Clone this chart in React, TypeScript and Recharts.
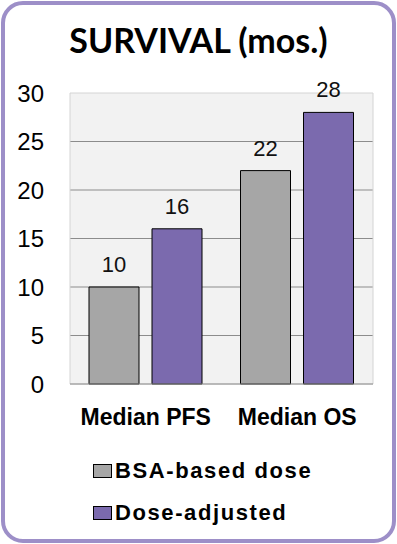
import {
  BarChart,
  Bar,
  XAxis,
  YAxis,
  CartesianGrid,
  LabelList,
  Legend,
  ReferenceArea,
} from "recharts";

const categories = ["Median PFS", "Median OS"];
const bsaBased = [10, 22];
const doseAdjusted = [16, 28];
const yTicks = [0, 5, 10, 15, 20, 25, 30];
const seriesNames = ["BSA-based dose", "Dose-adjusted"];

const GRAY = "#a6a6a6";
const PURPLE = "#7b6aae";
const BORDER = "#9d8fc8";

const data = categories.map((name, i) => ({
  name,
  bsa: bsaBased[i],
  adjusted: doseAdjusted[i],
}));

function LegendBox() {
  const colors = [GRAY, PURPLE];
  return (
    <div style={{ position: "relative", width: 397, height: 90 }}>
      {seriesNames.map((label, i) => (
        <div
          key={label}
          style={{
            position: "absolute",
            left: 93,
            top: 27 + i * 42,
            display: "flex",
            alignItems: "center",
            height: 20,
          }}
        >
          <div
            style={{
              width: 19,
              height: 14,
              background: colors[i],
              border: "1px solid #000",
              boxSizing: "border-box",
              marginRight: 3,
            }}
          />
          <span
            style={{
              fontFamily: "'Liberation Sans', Arial, sans-serif",
              fontWeight: 700,
              fontSize: 22,
              letterSpacing: 1.6,
              color: "#000",
              lineHeight: "20px",
            }}
          >
            {label}
          </span>
        </div>
      ))}
    </div>
  );
}

export default function App() {
  return (
    <div
      style={{
        position: "absolute",
        left: 0,
        top: 0,
        width: 397,
        height: 544,
        background: "#fff",
      }}
    >
      <div
        style={{
          position: "absolute",
          left: 1,
          top: 1,
          width: 395,
          height: 542,
          boxSizing: "border-box",
          border: `4px solid ${BORDER}`,
          borderRadius: 22,
        }}
      />
      <div
        style={{
          position: "absolute",
          left: 0,
          top: 18,
          width: 397,
          textAlign: "center",
          fontFamily: "Lato, 'Open Sans', sans-serif",
          fontWeight: 700,
          fontSize: 34,
          lineHeight: "44px",
          color: "#000",
        }}
      >
        SURVIVAL (mos.)
      </div>
      <div style={{ position: "absolute", left: 0, top: 0 }}>
        <BarChart
          width={397}
          height={544}
          data={data}
          margin={{ top: 93, right: 24, bottom: 20, left: 0 }}
          barSize={50}
          barGap={13}
        >
          <CartesianGrid
            vertical={false}
            horizontalValues={[5, 10, 15, 20, 25]}
            stroke="#8c8c8c"
            fill="#f2f2f2"
          />
          <ReferenceArea y1={0} y2={30} fill="none" stroke="#d4d4d4" />
          <XAxis
            dataKey="name"
            height={50}
            tickLine={false}
            tickSize={0}
            tickMargin={25}
            axisLine={{ stroke: "#8c8c8c" }}
            tick={{
              fontFamily: "'Liberation Sans', Arial, sans-serif",
              fontWeight: 700,
              fontSize: 23,
              fill: "#000",
            }}
          />
          <YAxis
            width={70}
            domain={[0, 30]}
            ticks={yTicks}
            axisLine={false}
            tickLine={false}
            tickSize={0}
            tickMargin={26}
            tick={{
              fontFamily: "'Liberation Sans', Arial, sans-serif",
              fontSize: 24,
              fill: "#000",
            }}
          />
          <Legend
            verticalAlign="bottom"
            content={<LegendBox />}
            wrapperStyle={{ left: 0, width: 397, height: 90 }}
          />
          <Bar
            dataKey="bsa"
            name={seriesNames[0]}
            fill={GRAY}
            stroke="#000"
            strokeWidth={1}
            isAnimationActive={false}
          >
            <LabelList
              dataKey="bsa"
              position="top"
              offset={15}
              style={{
                fontFamily: "'Liberation Sans', Arial, sans-serif",
                fontSize: 22,
                fill: "#111",
              }}
            />
          </Bar>
          <Bar
            dataKey="adjusted"
            name={seriesNames[1]}
            fill={PURPLE}
            stroke="#000"
            strokeWidth={1}
            isAnimationActive={false}
          >
            <LabelList
              dataKey="adjusted"
              position="top"
              offset={15}
              style={{
                fontFamily: "'Liberation Sans', Arial, sans-serif",
                fontSize: 22,
                fill: "#111",
              }}
            />
          </Bar>
        </BarChart>
      </div>
    </div>
  );
}
